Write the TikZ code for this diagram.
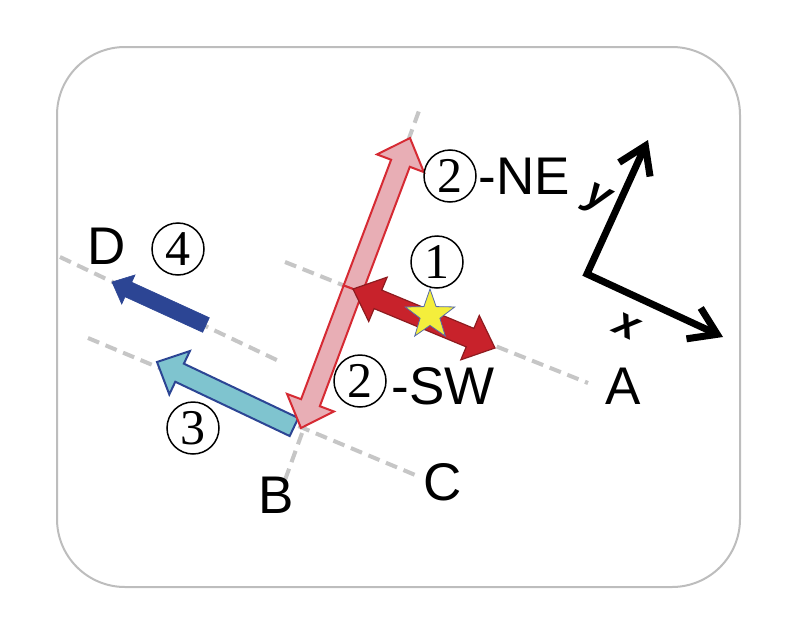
\documentclass[tikz,border=0pt]{standalone}
\usepackage{fontspec}
\setmainfont{Liberation Sans}
\newfontfamily\circfont{Liberation Serif}
\usetikzlibrary{calc,arrows.meta,shapes.geometric,positioning}

\definecolor{framegray}{HTML}{BDBDBD}
\definecolor{guidegray}{HTML}{C6C6C6}
\definecolor{pinkfill}{HTML}{E8AEB5}
\definecolor{redline}{HTML}{D62A33}
\definecolor{redfill}{HTML}{C8222B}
\definecolor{darkred}{HTML}{8E1B1F}
\definecolor{cyanfill}{HTML}{7FC4CF}
\definecolor{navy}{HTML}{2C4594}
\definecolor{staryellow}{HTML}{F4EE3C}

\tikzset{
	frame/.style={draw=framegray, line width=2pt, fill=white, rounded corners=68pt},
	guide/.style={draw=guidegray, line width=4pt, dash pattern=on 12pt off 7pt},
	lab/.style={inner sep=0pt, font=\fontsize{53}{53}\selectfont},
	num/.style={circle, draw, line width=1.5pt, minimum size=52pt, inner sep=0pt, font=\circfont\fontsize{50}{50}\selectfont},
	axlab/.style={inner sep=0pt, rotate=-25, font=\bfseries\itshape\fontsize{42}{42}\selectfont},
	axis/.style={line width=7pt, line join=miter, {Straight Barb[length=26pt,width=34pt]}-{Straight Barb[length=26pt,width=34pt]}},
	pinkarrow/.style={fill=pinkfill, draw=redline, line width=2pt},
	redarrow/.style={fill=redfill, draw=darkred, line width=1.2pt},
	cyanarrow/.style={fill=cyanfill, draw=navy, line width=2pt},
	bluearrow/.style={fill=navy, draw=navy, line width=0.6pt},
	starmark/.style={star, star points=5, star point ratio=2.5, minimum size=52pt, inner sep=0pt, fill=staryellow, draw=navy!80, line width=0.8pt}
}

% fat arrow: style, tail, tip, half shaft, half head, head length
\newcommand{\fatarrow}[6]{%
	\path[#1] let \p1=($(#3)-(#2)$), \n1={atan2(\y1,\x1)}, \n2={veclen(\x1,\y1)} in
		[shift={(#2)}, rotate=\n1]
		(0,-#4) -- ({\n2-#6},-#4) -- ({\n2-#6},-#5) -- (\n2,0)
		-- ({\n2-#6},#5) -- ({\n2-#6},#4) -- (0,#4) -- cycle;}
% same with a head at both ends
\newcommand{\fatdarrow}[6]{%
	\path[#1] let \p1=($(#3)-(#2)$), \n1={atan2(\y1,\x1)}, \n2={veclen(\x1,\y1)} in
		[shift={(#2)}, rotate=\n1]
		(0,0) -- (#6,-#5) -- (#6,-#4) -- ({\n2-#6},-#4) -- ({\n2-#6},-#5) -- (\n2,0)
		-- ({\n2-#6},#5) -- ({\n2-#6},#4) -- (#6,#4) -- (#6,#5) -- cycle;}

\begin{document}
\begin{tikzpicture}[x=1pt,y=-1pt]
	\useasboundingbox (0,0) rectangle (800,637);
	\draw[frame] (57,47) rectangle (740,587);

	% dashed guides
	\coordinate (a0) at (285,262);
	\coordinate (a1) at (588,383);
	\coordinate (b0) at (285,480);
	\coordinate (b1) at (420,108);
	\coordinate (c0) at (88,338);
	\coordinate (c1) at (420,477);
	\coordinate (d0) at (60,257);
	\coordinate (d1) at (283,363);
	\draw[guide] (a0) -- (a1);
	\draw[guide] (b0) -- (b1);
	\draw[guide] (c0) -- (c1);
	\draw[guide] (d0) -- (d1);

	% moves
	\coordinate (mid) at (353,289);
	\coordinate (ne) at (410,138);
	\coordinate (sw) at (301,428);
	\coordinate (ea) at (495,348);
	\coordinate (ctail) at (294,427);
	\coordinate (ctip) at (157,362);
	\coordinate (dtail) at (206,325);
	\coordinate (dtip) at (112,282);
	\fatarrow{cyanarrow}{ctail}{ctip}{10}{24}{25}
	\fatarrow{bluearrow}{dtail}{dtip}{8}{16}{18}
	\fatarrow{pinkarrow}{mid}{ne}{10}{25}{27}
	\fatarrow{pinkarrow}{mid}{sw}{10}{25}{27}
	\fatdarrow{redarrow}{mid}{ea}{10}{24}{27}
	\node[starmark] (st) at (430,315) {};

	% labels
	\node[lab] (A) at (623,386) {A};
	\node[lab] (B) at (276,495) {B};
	\node[lab] (C) at (443,482) {C};
	\node[lab] (D) at (107,246) {D};
	\node[num] (n1) at (437,262) {1};
	\node[num] (n2ne) at (450,176) {2};
	\node[num] (n2sw) at (360,381) {2};
	\node[num] (n3) at (193,428) {3};
	\node[num] (n4) at (178,249) {4};
	\node[lab, right=2pt of n2ne] (tne) {-NE};
	\node[lab, right=5pt of n2sw, yshift=-5pt] (tsw) {-SW};

	% frame axes
	\coordinate (o) at (587,274);
	\coordinate (xt) at (723,337);
	\coordinate (yt) at (648,140);
	\draw[axis] (xt) -- (o) -- (yt);
	\node[axlab] (ylab) at (597,200) {y};
	\node[axlab] (xlab) at (627,326) {x};
\end{tikzpicture}
\end{document}
